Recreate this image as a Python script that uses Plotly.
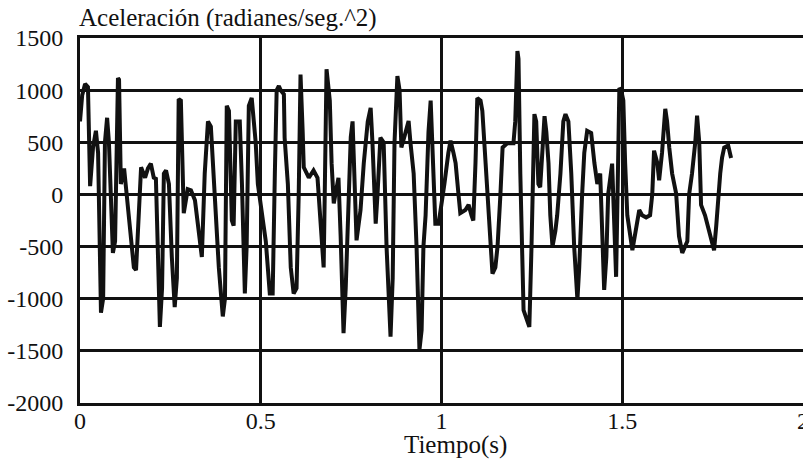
import plotly.graph_objects as go

# Time (s) and angular acceleration (rad/s^2)
tiempo = [
    0.000, 0.006, 0.014, 0.022, 0.028, 0.036, 0.044, 0.050, 0.058, 0.064,
    0.069, 0.075, 0.080, 0.091, 0.097, 0.105, 0.108, 0.113, 0.122, 0.133,
    0.149, 0.155, 0.163, 0.169, 0.180, 0.188, 0.196, 0.204, 0.210, 0.215,
    0.221, 0.227, 0.232, 0.238, 0.246, 0.254, 0.262, 0.268, 0.273, 0.279,
    0.287, 0.298, 0.307, 0.318, 0.329, 0.337, 0.345, 0.351, 0.354, 0.362,
    0.370, 0.384, 0.395, 0.401, 0.406, 0.412, 0.420, 0.425, 0.431, 0.442,
    0.448, 0.456, 0.461, 0.467, 0.475, 0.486, 0.492, 0.506, 0.514, 0.525,
    0.533, 0.539, 0.544, 0.550, 0.555, 0.564, 0.566, 0.575, 0.583, 0.591,
    0.599, 0.605, 0.610, 0.616, 0.619, 0.633, 0.646, 0.657, 0.666, 0.674,
    0.677, 0.682, 0.691, 0.696, 0.702, 0.710, 0.715, 0.721, 0.729, 0.735,
    0.743, 0.749, 0.754, 0.760, 0.765, 0.776, 0.785, 0.796, 0.804, 0.809,
    0.818, 0.823, 0.831, 0.840, 0.848, 0.859, 0.865, 0.870, 0.878, 0.884,
    0.889, 0.901, 0.909, 0.914, 0.923, 0.931, 0.939, 0.945, 0.950, 0.956,
    0.964, 0.970, 0.975, 0.983, 0.992, 1.000, 1.008, 1.019, 1.025, 1.033,
    1.039, 1.047, 1.052, 1.066, 1.075, 1.083, 1.088, 1.094, 1.099, 1.108,
    1.113, 1.122, 1.133, 1.141, 1.149, 1.155, 1.163, 1.169, 1.182, 1.199,
    1.204, 1.210, 1.213, 1.218, 1.227, 1.235, 1.243, 1.249, 1.257, 1.262,
    1.268, 1.273, 1.279, 1.285, 1.290, 1.296, 1.301, 1.307, 1.315, 1.320,
    1.329, 1.337, 1.343, 1.351, 1.359, 1.367, 1.376, 1.381, 1.389, 1.395,
    1.403, 1.414, 1.423, 1.431, 1.439, 1.445, 1.450, 1.456, 1.461, 1.472,
    1.478, 1.483, 1.486, 1.492, 1.497, 1.503, 1.508, 1.514, 1.528, 1.539,
    1.547, 1.555, 1.566, 1.577, 1.583, 1.588, 1.597, 1.602, 1.610, 1.619,
    1.624, 1.630, 1.638, 1.649, 1.657, 1.666, 1.674, 1.680, 1.685, 1.693,
    1.702, 1.707, 1.713, 1.718, 1.729, 1.740, 1.749, 1.754, 1.760, 1.765,
    1.771, 1.776, 1.782, 1.793, 1.801]
aceleracion = [
    700, 950, 1060, 1030, 80, 450, 610, 400, -1135, -1000,
    500, 735, 500, -560, -450, 1115, 1100, 100, 250, -150,
    -700, -725, -200, 260, 160, 250, 295, 160, 150, -600,
    -1270, -900, 200, 230, 100, -600, -1080, -800, 915, 900,
    -180, 50, 40, -55, -400, -600, 200, 640, 700, 650,
    100, -700, -1170, -1000, 850, 800, -250, -300, 700, 700,
    100, -950, -500, 850, 925, 500, 100, -300, -450, -950,
    -950, 200, 1000, 1040, 1000, 960, 545, 100, -700, -950,
    -900, 0, 1150, 600, 260, 160, 230, 160, -300, -700,
    0, 1200, 900, 300, -85, 100, 160, -400, -1330, -900,
    100, 550, 700, 0, -440, -150, 300, 700, 830, 500,
    -280, 0, 545, 500, -500, -1365, -800, 500, 1135, 1000,
    450, 600, 705, 500, 200, -500, -1490, -1300, -500, -200,
    600, 900, 500, -280, -280, -100, 100, 400, 515, 400,
    300, 0, -180, -150, -100, -200, -250, 300, 925, 900,
    800, 300, -400, -760, -700, -500, 0, 450, 490, 490,
    700, 1375, 1300, 200, -1110, -1200, -1270, -500, 770, 700,
    100, 70, 400, 750, 600, 300, -200, -500, -350, -200,
    200, 700, 770, 700, 200, -500, -1010, -700, 0, 400,
    610, 590, 300, 100, 200, -400, -915, -600, 0, 295,
    -200, -790, -200, 1020, 1000, 900, 300, -200, -535, -300,
    -150, -200, -220, -200, 0, 420, 300, 135, 400, 820,
    700, 450, 200, 10, -400, -560, -500, -450, 0, 200,
    500, 755, 500, -100, -200, -350, -450, -535, -300, 0,
    200, 350, 450, 470, 350]

x_ticks = [0, 0.5, 1, 1.5]
x_tick_text = ["0", "0.5", "1", "1.5"]
x_last_tick = 2
y_ticks = [-2000, -1500, -1000, -500, 0, 500, 1000, 1500]
y_tick_text = ["-2000", "-1500", "-1000", "-500", "0", "500", "1000", "1500"]

FONT = "Liberation Serif"
INK = "#111111"

fig = go.Figure()
fig.add_trace(go.Scatter(
    x=tiempo, y=aceleracion, mode="lines",
    line=dict(color=INK, width=4),
    showlegend=False, hoverinfo="skip", cliponaxis=True))

fig.update_layout(
    width=803, height=460,
    margin=dict(l=80, r=0, t=38, b=57, autoexpand=False),
    paper_bgcolor="white", plot_bgcolor="white",
    font=dict(family=FONT, size=24, color=INK),
    showlegend=False,
)
fig.update_xaxes(
    range=[0, 2], tickvals=x_ticks, ticktext=x_tick_text,
    showgrid=True, gridcolor=INK, gridwidth=3,
    zeroline=False, showline=True, linecolor=INK, linewidth=3,
    mirror=True, ticks="", ticklabelstandoff=-6, automargin=False,
    tickfont=dict(family=FONT, size=24, color=INK))
fig.update_yaxes(
    range=[-2000, 1500], tickvals=y_ticks, ticktext=y_tick_text,
    showgrid=True, gridcolor=INK, gridwidth=3,
    zeroline=False, showline=True, linecolor=INK, linewidth=3,
    mirror=True, ticks="", ticklabelstandoff=9, automargin=False,
    tickfont=dict(family=FONT, size=24, color=INK))

# last x tick label, partly cut by the right edge as in the reference
fig.add_annotation(
    text=str(x_last_tick), xref="x", yref="paper",
    x=x_last_tick, y=0, xanchor="center", yanchor="top", yshift=-3,
    showarrow=False, font=dict(family=FONT, size=24, color=INK))

fig.add_annotation(
    text="Aceleración (radianes/seg.^2)", xref="paper", yref="paper",
    x=0, y=1, xanchor="left", yanchor="bottom", xshift=-3, yshift=4,
    showarrow=False, font=dict(family=FONT, size=25, color=INK))
fig.add_annotation(
    text="Tiempo(s)", xref="paper", yref="paper",
    x=0.52, y=0, xanchor="center", yanchor="top", yshift=-26,
    showarrow=False, font=dict(family=FONT, size=25, color=INK))

fig.write_html(
    "out.html",
    config={"displayModeBar": False},
    post_script="document.body.style.margin='0';document.body.style.overflow='hidden';")
